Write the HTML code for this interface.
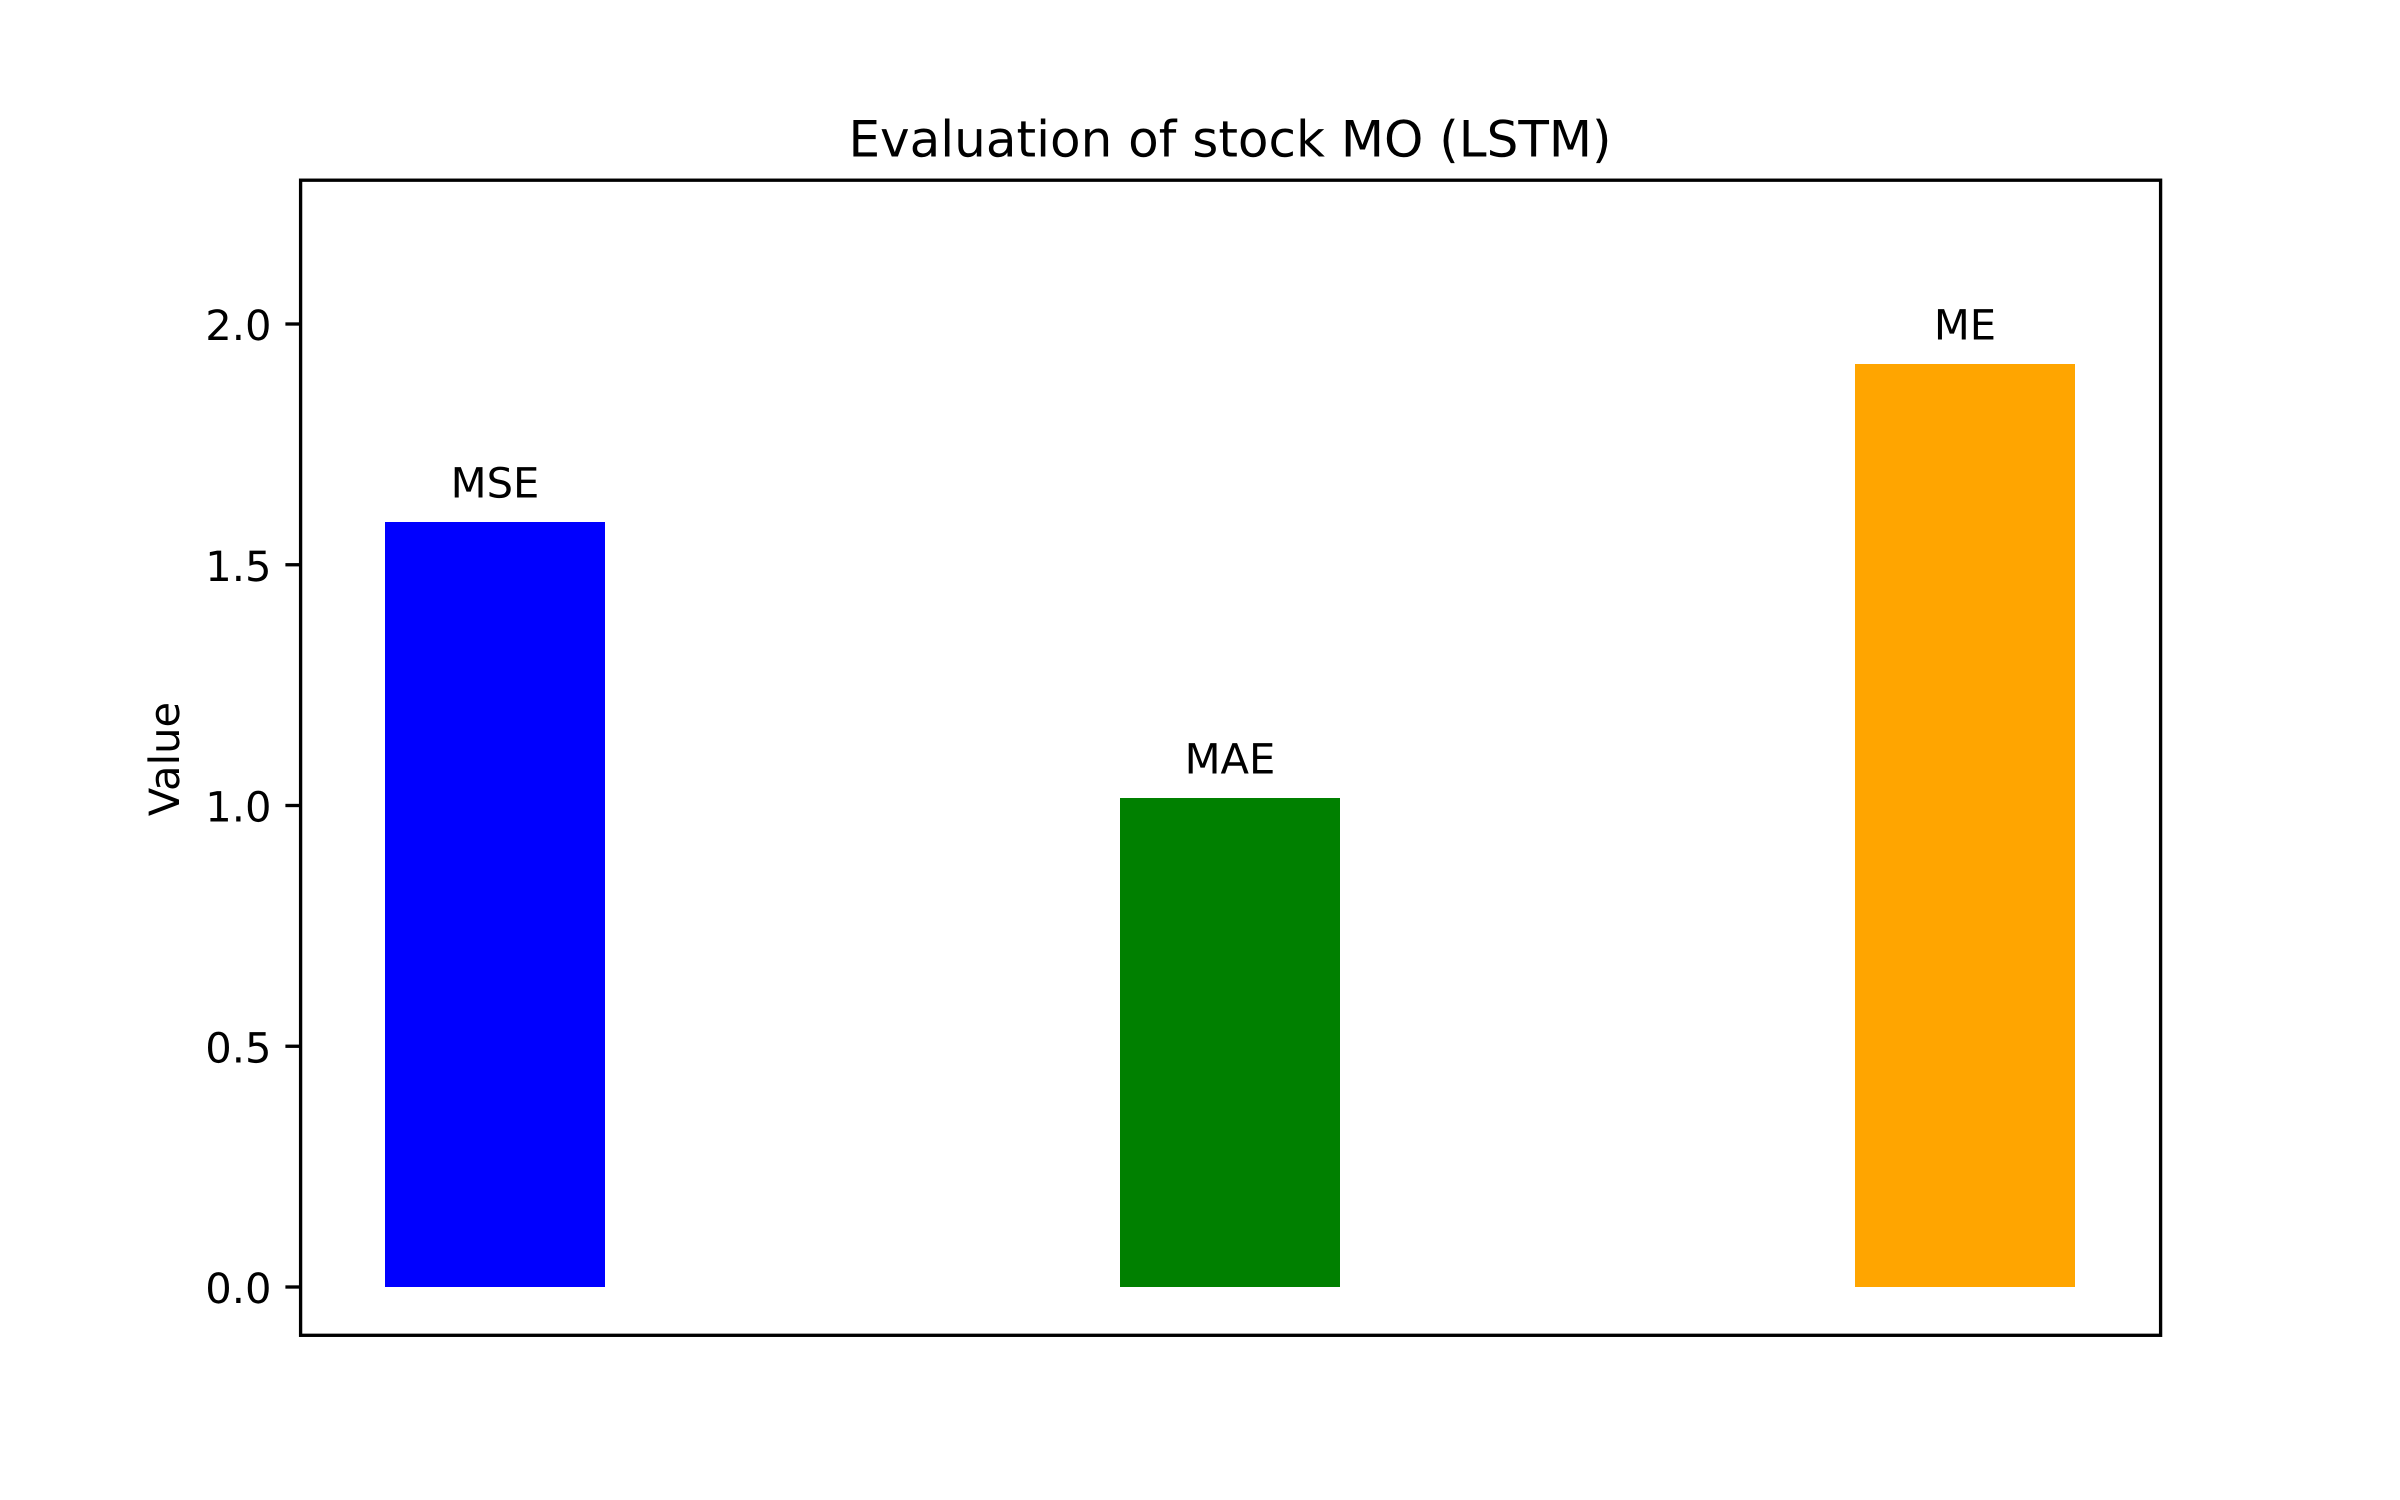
<!DOCTYPE html>
<html lang="en">
<head>
<meta charset="utf-8">
<title>Evaluation of stock MO (LSTM)</title>
<style>
  html, body { margin: 0; padding: 0; background: #ffffff; }
  body { width: 2400px; height: 1500px; overflow: hidden; }
  svg { display: block; }
  text { font-family: "DejaVu Sans", "Liberation Sans", sans-serif; fill: #000000; text-rendering: geometricPrecision; }
</style>
</head>
<body>
<svg id="chart" xmlns="http://www.w3.org/2000/svg" width="2400" height="1500" viewBox="0 0 2400 1500">
  <rect x="0" y="0" width="2400" height="1500" fill="#ffffff"/>
  <text x="1230" y="156.5" font-size="50" text-anchor="middle">Evaluation of stock MO (LSTM)</text>
  <text transform="translate(179 759) rotate(-90)" font-size="41.67" text-anchor="middle">Value</text>
  <g id="bars"></g>
  <g id="y-axis"></g>
  <rect x="300.6" y="180.2" width="1860" height="1155.1" fill="none" stroke="#000000" stroke-width="3.33"/>
</svg>
<script>
const categories = ['MSE', 'MAE', 'ME'];
const seriesValues = [1.589, 1.016, 1.917];
const barColors = ['#0000ff', '#008000', '#ffa500'];
const yTickValues = [0, 0.5, 1, 1.5, 2];
const yTickLabels = ['0.0', '0.5', '1.0', '1.5', '2.0'];

const SVG_NS = 'http://www.w3.org/2000/svg';
const PLOT = { left: 300, right: 2160, top: 180, bottom: 1335 };
const BAR_WIDTH_PX = 220;
const X_PER_UNIT = 735;
const X_ORIGIN = 495;
const Y_PER_UNIT = 481.5;
const Y_ORIGIN = 1287;

function xScale(i) { return X_ORIGIN + i * X_PER_UNIT; }
function yScale(v) { return Y_ORIGIN - v * Y_PER_UNIT; }

const barsGroup = document.getElementById('bars');
categories.forEach(function (name, i) {
  const value = seriesValues[i];
  const cx = xScale(i);
  const w = BAR_WIDTH_PX;
  const rect = document.createElementNS(SVG_NS, 'rect');
  rect.setAttribute('x', cx - w / 2);
  rect.setAttribute('y', Math.min(yScale(value), yScale(0)));
  rect.setAttribute('width', w);
  rect.setAttribute('height', Math.abs(yScale(0) - yScale(value)));
  rect.setAttribute('fill', barColors[i]);
  rect.setAttribute('shape-rendering', 'crispEdges');
  
  
  barsGroup.appendChild(rect);

  const label = document.createElementNS(SVG_NS, 'text');
  label.setAttribute('x', cx);
  label.setAttribute('y', yScale(value) - 24.3);
  label.setAttribute('font-size', '41.67');
  label.setAttribute('text-anchor', 'middle');
  
  
  label.textContent = name;
  barsGroup.appendChild(label);
});

const yAxis = document.getElementById('y-axis');
yTickValues.forEach(function (v, i) {
  const y = yScale(v);
  const tick = document.createElementNS(SVG_NS, 'line');
  tick.setAttribute('x1', PLOT.left - 14.6);
  tick.setAttribute('x2', PLOT.left);
  tick.setAttribute('y1', y);
  tick.setAttribute('y2', y);
  tick.setAttribute('stroke', '#000000');
  tick.setAttribute('stroke-width', '3.33');
  
  
  yAxis.appendChild(tick);

  const label = document.createElementNS(SVG_NS, 'text');
  label.setAttribute('x', PLOT.left - 28.5);
  label.setAttribute('y', y + 16);
  label.setAttribute('font-size', '41.67');
  label.setAttribute('text-anchor', 'end');
  
  
  label.textContent = yTickLabels[i];
  yAxis.appendChild(label);
});
</script>
</body>
</html>
